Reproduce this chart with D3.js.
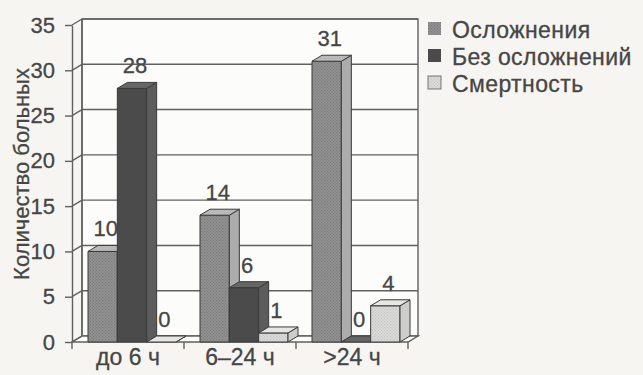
<!DOCTYPE html>
<html lang="ru">
<head>
<meta charset="utf-8">
<script src="https://cdn.jsdelivr.net/npm/d3@7/dist/d3.min.js"></script>
<style>
  html, body { margin: 0; padding: 0; background: #f6f5f1; }
  svg { display: block; }
  text { font-family: "Liberation Sans", Arial, Helvetica, sans-serif; fill: #464646; stroke: #464646; stroke-width: 0.3px; }
</style>
</head>
<body>
<svg id="chart" width="643" height="375"></svg>
<script>
// Categories: time from onset
const categories = ["до 6 ч", "6–24 ч", ">24 ч"];
// Series names (legend order)
const seriesNames = ["Осложнения", "Без осложнений", "Смертность"];
// Number of patients per category
const complications   = [10, 14, 31];
const noComplications = [28, 6, 0];
const mortality       = [0, 1, 4];
// Value axis ticks
const yTicks = [0, 5, 10, 15, 20, 25, 30, 35];

const seriesValues = [complications, noComplications, mortality];

// Face colours per series: front, side, top
const palette = [
  { front: "#8e8e8e", side: "#acacac", top: "#b9b9b9", pattern: "dotsMid" },
  { front: "#4b4b4b", side: "#5c5c5c", top: "#666666", pattern: null },
  { front: "#dadad8", side: "#cdcdcb", top: "#e6e6e4", pattern: "dotsLight" }
];

const svg = d3.select("#chart");
const FONT = "'Liberation Sans', Arial, sans-serif";
const TEXT = "#464646";

// 3D depth offset of the plot box
const DX = 10, DY = -6;

const y = d3.scaleLinear().domain([0, 35]).range([342, 25]);
const x = d3.scaleBand().domain(categories).range([72, 408]);
const xs = d3.scaleBand().domain(seriesNames).range([16, 104]);

// halftone textures
const defs = svg.append("defs");
function dotPattern(id, base, dot) {
  const p = defs.append("pattern").attr("id", id)
    .attr("width", 3).attr("height", 3).attr("patternUnits", "userSpaceOnUse");
  p.append("rect").attr("width", 3).attr("height", 3).attr("fill", base);
  p.append("rect").attr("x", 0).attr("y", 0).attr("width", 1.2).attr("height", 1.2).attr("fill", dot);
  p.append("rect").attr("x", 1.5).attr("y", 1.5).attr("width", 1.2).attr("height", 1.2).attr("fill", dot);
}
dotPattern("dotsMid", "#939393", "#7a7a7a");
dotPattern("dotsLight", "#dcdcda", "#c4c4c2");

const [x0, x1] = x.range();
const yb = y(0), yt = y(35);
const lineCol = "#606060";
const lineW = 1.4;

// back wall
svg.append("rect")
  .attr("x", x0 + DX).attr("y", yt + DY)
  .attr("width", x1 - x0).attr("height", yb - yt)
  .attr("fill", "#fcfcfa").attr("stroke", lineCol).attr("stroke-width", lineW);

// floor
svg.append("path")
  .attr("d", `M${x0},${yb} L${x1},${yb} L${x1 + DX},${yb + DY} L${x0 + DX},${yb + DY} Z`)
  .attr("fill", "#fcfcfa").attr("stroke", lineCol).attr("stroke-width", lineW);

// gridlines on back wall and side wall
const grid = svg.append("g").attr("stroke", lineCol).attr("stroke-width", lineW).attr("fill", "none");
grid.selectAll("line.h").data(yTicks.filter(d => d > 0)).join("line")
  .attr("class", "h")
  .attr("x1", x0 + DX).attr("x2", x1 + DX)
  .attr("y1", d => y(d) + DY).attr("y2", d => y(d) + DY);
grid.selectAll("line.s").data(yTicks).join("line")
  .attr("class", "s")
  .attr("x1", x0).attr("x2", x0 + DX)
  .attr("y1", d => y(d)).attr("y2", d => y(d) + DY);
grid.append("line")
  .attr("x1", x0 + DX).attr("x2", x0 + DX)
  .attr("y1", yt + DY).attr("y2", yb + DY);

// value axis on the front-left edge
const yAxis = svg.append("g")
  .attr("transform", `translate(${x0},0)`)
  .call(d3.axisLeft(y).tickValues(yTicks).tickSize(7).tickSizeOuter(0).tickPadding(10));
yAxis.select(".domain").attr("stroke", lineCol).attr("stroke-width", lineW);
yAxis.selectAll(".tick line").attr("stroke", lineCol).attr("stroke-width", lineW);
yAxis.selectAll(".tick text").attr("font-size", 22).attr("fill", TEXT)
  .style("font-family", FONT);

// category boundary ticks
const bounds = categories.map(c => x(c)).concat([x1]);
svg.append("g").selectAll("line").data(bounds).join("line")
  .attr("x1", d => d).attr("x2", d => d)
  .attr("y1", yb).attr("y2", yb + 7)
  .attr("stroke", lineCol).attr("stroke-width", lineW);

// category labels
const xAxis = svg.append("g")
  .attr("transform", `translate(0,${yb})`)
  .call(d3.axisBottom(x).tickSize(0).tickPadding(5));
xAxis.select(".domain").remove();
xAxis.selectAll(".tick text").attr("font-size", 23).attr("fill", TEXT)
  .attr("dy", "0.8em")
  .style("font-family", FONT);

// 3D bars, drawn left to right
const bars = [];
categories.forEach((c, ci) => {
  seriesNames.forEach((s, si) => {
    bars.push({ c, s, si, v: seriesValues[si][ci] });
  });
});

const barG = svg.append("g").attr("stroke", "#3a3a3a").attr("stroke-width", 1).attr("stroke-linejoin", "round");
bars.forEach(b => {
  const bx = x(b.c) + xs(b.s);
  const w = xs.bandwidth();
  const top = y(b.v);
  const col = palette[b.si];
  const g = barG.append("g");
  g.append("rect")
    .attr("x", bx).attr("y", top).attr("width", w).attr("height", yb - top)
    .attr("fill", col.pattern ? `url(#${col.pattern})` : col.front);
  g.append("path")
    .attr("d", `M${bx + w},${top} L${bx + w + DX},${top + DY} L${bx + w + DX},${yb + DY} L${bx + w},${yb} Z`)
    .attr("fill", col.side);
  g.append("path")
    .attr("d", `M${bx},${top} L${bx + DX},${top + DY} L${bx + w + DX},${top + DY} L${bx + w},${top} Z`)
    .attr("fill", col.top);
});

// value labels
svg.append("g").selectAll("text").data(bars).join("text")
  .attr("x", d => x(d.c) + xs(d.s) + xs.bandwidth() / 2 + 3)
  .attr("y", d => y(d.v) - 15)
  .attr("text-anchor", "middle")
  .attr("font-size", 22)
  .text(d => d.v);

// axis title
svg.append("text")
  .attr("transform", "translate(29,174) rotate(-90)")
  .attr("text-anchor", "middle")
  .attr("font-size", 22)
  .text("Количество больных");

// legend
const legend = svg.append("g").attr("transform", "translate(428,22)");
const rows = legend.selectAll("g").data(seriesNames).join("g")
  .attr("transform", (d, i) => `translate(0,${i * 27})`);
rows.append("rect")
  .attr("width", 13).attr("height", 13)
  .attr("fill", (d, i) => palette[i].pattern ? `url(#${palette[i].pattern})` : palette[i].front)
  .attr("stroke", (d, i) => i === 2 ? "#777" : "none");
rows.append("text")
  .attr("x", 24).attr("y", 15.5)
  .attr("font-size", 23)
  .attr("letter-spacing", 0.4)
  .text(d => d);
</script>
</body>
</html>
